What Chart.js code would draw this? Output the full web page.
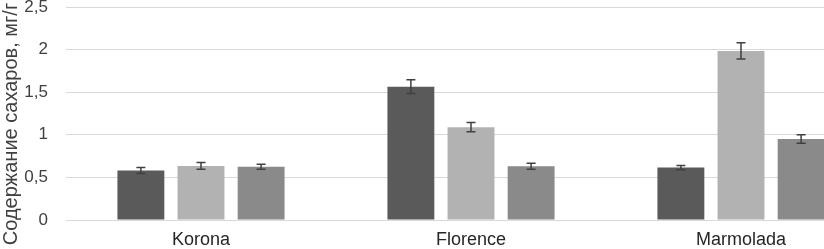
<!DOCTYPE html>
<html lang="ru">
<head>
  <meta charset="UTF-8">
  <title>Содержание сахаров</title>
  <script src="https://cdn.jsdelivr.net/npm/chart.js"></script>
  <style>
    body {
      margin: 0;
      background: #ffffff;
      overflow: hidden;
    }
    #wrap {
      position: relative;
      width: 876px;
      height: 249px;
    }
  </style>
</head>
<body>
<div id="wrap">
  <canvas id="chartCanvas"></canvas>
</div>

<script>
  // Данные
  const sorta = ['Korona', 'Florence', 'Marmolada'];
  const ryad1 = [0.58, 1.565, 0.615];
  const ryad2 = [0.635, 1.09, 1.985];
  const ryad3 = [0.625, 0.63, 0.95];
  const osh1 = [0.035, 0.08, 0.025];
  const osh2 = [0.04, 0.055, 0.095];
  const osh3 = [0.03, 0.035, 0.05];
  const yTicks = [0, 0.5, 1, 1.5, 2, 2.5];
  const yTitle = 'Содержание сахаров, мг/г';

  // Планки погрешностей
  const errorBars = {
    id: 'errorBars',
    afterDatasetsDraw(chart) {
      const ctx = chart.ctx;
      const y = chart.scales.y;
      chart.data.datasets.forEach((ds, i) => {
        const meta = chart.getDatasetMeta(i);
        meta.data.forEach((bar, j) => {
          const v = ds.data[j];
          const e = ds.errors[j];
          const top = y.getPixelForValue(v + e);
          const bot = y.getPixelForValue(v - e);
          ctx.save();
          ctx.strokeStyle = '#404040';
          ctx.lineWidth = 1.5;
          ctx.beginPath();
          ctx.moveTo(bar.x, top);
          ctx.lineTo(bar.x, bot);
          ctx.moveTo(bar.x - 4.5, top);
          ctx.lineTo(bar.x + 4.5, top);
          ctx.moveTo(bar.x - 4.5, bot);
          ctx.lineTo(bar.x + 4.5, bot);
          ctx.stroke();
          ctx.restore();
        });
      });
    }
  };

  // Подпись оси Y (чуть ниже центра области графика, как в оригинале)
  const yTitlePlugin = {
    id: 'yTitle',
    afterDraw(chart) {
      const ctx = chart.ctx;
      ctx.save();
      ctx.translate(16.5, 124);
      ctx.rotate(-Math.PI / 2);
      ctx.font = '20px "Liberation Sans"';
      ctx.fillStyle = '#404040';
      ctx.textAlign = 'center';
      ctx.textBaseline = 'alphabetic';
      ctx.fillText(yTitle, 0, 0);
      ctx.restore();
    }
  };

  new Chart(document.getElementById('chartCanvas'), {
    type: 'bar',
    data: {
      labels: sorta,
      datasets: [
        { data: ryad1, errors: osh1, backgroundColor: '#5a5a5a' },
        { data: ryad2, errors: osh2, backgroundColor: '#b2b2b2' },
        { data: ryad3, errors: osh3, backgroundColor: '#8a8a8a' }
      ]
    },
    plugins: [errorBars, yTitlePlugin],
    options: {
      responsive: true,
      maintainAspectRatio: false,
      animation: false,
      layout: { padding: 0 },
      datasets: {
        bar: { categoryPercentage: 0.668, barPercentage: 0.78 }
      },
      plugins: {
        legend: { display: false },
        tooltip: { enabled: false }
      },
      scales: {
        x: {
          grid: { display: false, drawTicks: false },
          border: { display: false },
          ticks: {
            color: '#262626',
            font: { family: 'Liberation Sans', size: 18 },
            padding: 9
          },
          afterFit(scale) { scale.height = 29; }
        },
        y: {
          min: 0,
          max: 2.5,
          afterBuildTicks(scale) {
            scale.ticks = yTicks.map(v => ({ value: v }));
          },
          grid: { color: '#d9d9d9', lineWidth: 1, drawTicks: false },
          border: { display: false },
          ticks: {
            color: '#404040',
            font: { family: 'Liberation Sans', size: 17 },
            padding: 18,
            callback: v => String(v).replace('.', ',')
          },
          afterFit(scale) {
            scale.width = 66;
            scale.paddingTop = 7;
            scale.paddingBottom = 0;
          }
        }
      }
    }
  });
</script>
</body>
</html>
